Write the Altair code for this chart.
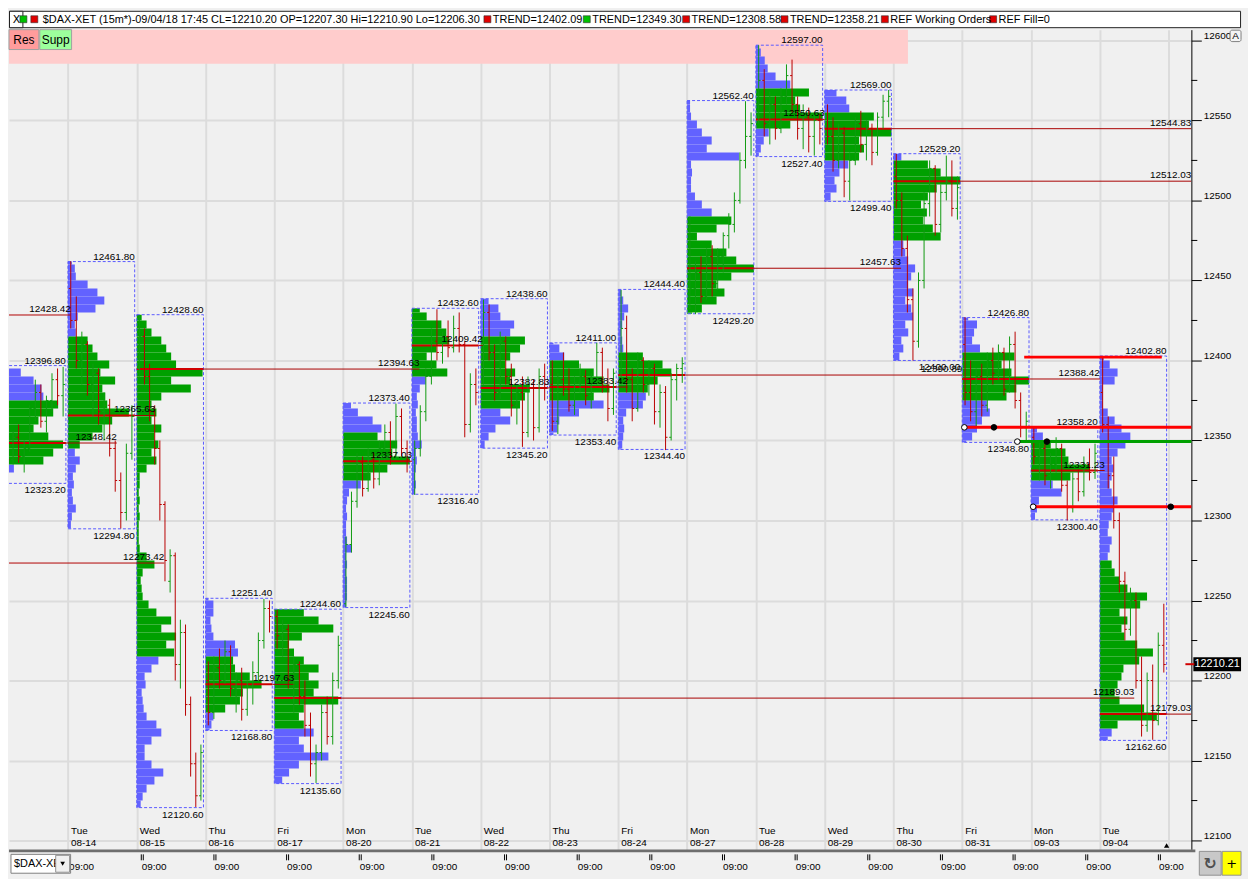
import altair as alt
import pandas as pd

FONT = "Liberation Sans, Arial, sans-serif"

# ---------------- sessions ----------------
SESSION_DAY = ["Mon", "Tue", "Wed", "Thu", "Fri", "Mon", "Tue", "Wed", "Thu", "Fri",
               "Mon", "Tue", "Wed", "Thu", "Fri", "Mon", "Tue"]
SESSION_DATE = ["08-13", "08-14", "08-15", "08-16", "08-17", "08-20", "08-21", "08-22", "08-23",
                "08-24", "08-27", "08-28", "08-29", "08-30", "08-31", "09-03", "09-04"]
SESSION_HIGH = [12396.80, 12461.80, 12428.60, 12251.40, 12244.60, 12373.40, 12432.60, 12438.60,
                12411.00, 12444.40, 12562.40, 12597.00, 12569.00, 12529.20, 12426.80, 12358.20, 12402.80]
SESSION_LOW = [12323.20, 12294.80, 12120.60, 12168.80, 12135.60, 12245.60, 12316.40, 12345.20,
               12353.40, 12344.40, 12429.20, 12527.40, 12499.40, 12400.00, 12348.80, 12300.40, 12162.60]
SESSION_POC = [12348.42, 12365.63, 12394.63, 12197.63, 12189.03, 12337.03, 12409.42, 12382.83,
               12383.42, 12390.89, 12457.63, 12550.63, 12544.83, 12512.03, 12388.42, 12331.23, 12179.03]
POC_END = [1.71, 2.27, 6.11, 4.29, 16.5, 6.0, 7.03, 8.0, 9.14, 14.0, 13.11, 12.0, 17.33, 17.33,
           16.0, 16.07, 17.33]
VA_LOW = [12335, 12344, 12213, 12181, 12169, 12323, 12388, 12370, 12373, 12378, 12425, 12546,
          12524, 12473, 12373, 12324, 12168]
VA_HIGH = [12375, 12414, 12429, 12214, 12245, 12354, 12433, 12413, 12398, 12403, 12488, 12568,
           12553, 12524, 12403, 12349, 12274]

# ---------------- volume profiles (5-point rows, width in 1/70 of a session) ----------------
PROFILE_STEP = 5
PROFILE_START = [12325, 12295, 12120, 12165, 12135, 12245, 12315, 12345, 12350, 12340, 12425,
                 12525, 12495, 12400, 12345, 12300, 12160]
PROFILE_S00 = [8, 15, 45, 55, 65, 50, 35, 40, 55, 60, 45, 43, 35, 22, 10]
PROFILE_S01 = [3, 4, 8, 5, 4, 6, 5, 8, 12, 7, 12, 25, 35, 45, 62, 40, 38, 35, 48, 33, 42, 30, 25,
               20, 8, 7, 10, 28, 37, 30, 20, 8, 7, 4]
PROFILE_S02 = [4, 6, 10, 18, 27, 15, 8, 8, 15, 25, 20, 10, 7, 6, 5, 9, 8, 15, 22, 38, 30, 40, 25,
               35, 20, 12, 6, 5, 4, 6, 18, 10, 3, 2, 2, 2, 3, 2, 3, 2, 3, 3, 10, 20, 15, 22, 18,
               25, 15, 20, 15, 25, 55, 35, 67, 40, 35, 30, 25, 15, 10, 5]
PROFILE_S03 = [4, 6, 8, 20, 35, 38, 57, 45, 30, 28, 33, 30, 8, 6, 5, 8, 8, 3]
PROFILE_S04 = [8, 15, 25, 55, 30, 25, 40, 30, 25, 30, 65, 40, 45, 35, 45, 30, 20, 15, 28, 60, 45, 30]
PROFILE_S05 = [3, 4, 4, 4, 3, 4, 3, 9, 4, 3, 3, 4, 3, 4, 6, 18, 28, 45, 68, 50, 55, 35, 39, 30, 15, 8]
PROFILE_S06 = [3, 4, 3, 4, 5, 4, 10, 6, 5, 5, 4, 6, 5, 8, 14, 36, 25, 15, 25, 38, 35, 30, 15, 8]
PROFILE_S07 = [4, 8, 15, 30, 20, 40, 45, 50, 30, 35, 25, 30, 40, 45, 30, 34, 20, 18, 8]
PROFILE_S08 = [4, 8, 10, 30, 55, 45, 61, 55, 45, 30, 15, 10, 4]
PROFILE_S09 = [3, 4, 5, 6, 5, 8, 25, 28, 30, 40, 54, 45, 25, 5, 4, 3, 4, 6, 10, 5, 3]
PROFILE_S10 = [5, 15, 30, 38, 30, 45, 68, 50, 40, 25, 10, 30, 45, 25, 15, 8, 4, 4, 5, 4, 53, 20,
               25, 15, 10, 4, 3, 3]
PROFILE_S11 = [3, 5, 8, 13, 35, 68, 45, 40, 54, 35, 20, 12, 9, 5, 3]
PROFILE_S12 = [3, 6, 12, 10, 15, 24, 35, 40, 35, 68, 45, 50, 25, 22, 12]
PROFILE_S13 = [6, 10, 8, 15, 12, 20, 18, 12, 20, 15, 18, 22, 15, 12, 10, 48, 40, 30, 34, 28, 35,
               44, 68, 48, 35, 8]
PROFILE_S14 = [4, 10, 15, 20, 28, 25, 45, 55, 68, 50, 40, 53, 18, 10, 12, 15, 6]
PROFILE_S15 = [4, 6, 8, 31, 22, 40, 60, 38, 35, 20, 12, 6]
PROFILE_S16 = [8, 12, 18, 58, 45, 20, 15, 18, 22, 24, 40, 54, 38, 25, 22, 28, 20, 41, 48, 28, 20,
               15, 12, 8, 10, 12, 8, 9, 12, 14, 18, 12, 10, 12, 14, 12, 18, 26, 31, 22, 15, 8, 3,
               3, 3, 15, 18, 10, 4]
PROFILES = [PROFILE_S00, PROFILE_S01, PROFILE_S02, PROFILE_S03, PROFILE_S04, PROFILE_S05,
            PROFILE_S06, PROFILE_S07, PROFILE_S08, PROFILE_S09, PROFILE_S10, PROFILE_S11,
            PROFILE_S12, PROFILE_S13, PROFILE_S14, PROFILE_S15, PROFILE_S16]

# ---------------- price bars (open, high, low, close) ----------------
BARS_S00 = [(12350, 12362, 12340, 12345), (12345, 12352, 12332, 12338), (12338, 12356, 12335, 12352),
            (12352, 12360, 12336, 12340), (12340, 12350, 12330, 12345), (12345, 12372, 12343, 12370),
            (12370, 12388, 12362, 12380), (12380, 12385, 12358, 12362), (12362, 12378, 12355, 12375),
            (12375, 12392, 12368, 12388), (12388, 12395, 12372, 12378), (12378, 12396, 12365, 12385)]
BARS_S01 = [(12445, 12462, 12420, 12425), (12425, 12440, 12395, 12400), (12400, 12418, 12385, 12410),
            (12410, 12412, 12378, 12385), (12385, 12398, 12365, 12392), (12392, 12395, 12360, 12368),
            (12368, 12380, 12350, 12372), (12372, 12376, 12340, 12345), (12345, 12350, 12318, 12325),
            (12325, 12330, 12295, 12305), (12305, 12348, 12300, 12342), (12342, 12372, 12338, 12365)]
BARS_S02 = [(12395, 12428, 12390, 12415), (12415, 12420, 12385, 12390), (12390, 12398, 12362, 12368),
            (12368, 12372, 12335, 12345), (12345, 12350, 12300, 12310), (12310, 12312, 12262, 12275),
            (12262, 12282, 12255, 12278), (12278, 12280, 12200, 12210), (12210, 12238, 12195, 12230),
            (12230, 12235, 12178, 12185), (12185, 12190, 12140, 12148), (12148, 12155, 12121, 12128),
            (12128, 12160, 12125, 12155)]
BARS_S03 = [(12200, 12212, 12172, 12180), (12180, 12215, 12176, 12208), (12208, 12220, 12195, 12200),
            (12200, 12225, 12198, 12218), (12218, 12222, 12190, 12195), (12195, 12205, 12180, 12200),
            (12200, 12208, 12175, 12182), (12182, 12200, 12178, 12196), (12196, 12212, 12185, 12205),
            (12205, 12230, 12200, 12225), (12225, 12251, 12220, 12245), (12245, 12250, 12230, 12240)]
BARS_S04 = [(12240, 12244, 12220, 12228), (12228, 12238, 12215, 12232), (12232, 12235, 12195, 12200),
            (12200, 12215, 12180, 12210), (12210, 12212, 12185, 12190), (12190, 12200, 12165, 12172),
            (12172, 12180, 12140, 12148), (12148, 12160, 12136, 12155), (12155, 12185, 12150, 12180),
            (12180, 12190, 12160, 12165), (12165, 12205, 12160, 12200), (12200, 12228, 12195, 12222)]
BARS_S05 = [(12248, 12290, 12246, 12285), (12285, 12318, 12280, 12312), (12312, 12342, 12308, 12336),
            (12336, 12340, 12315, 12320), (12320, 12345, 12318, 12338), (12338, 12342, 12320, 12326),
            (12326, 12350, 12322, 12345), (12345, 12360, 12338, 12355), (12355, 12362, 12335, 12340),
            (12340, 12373, 12338, 12365), (12365, 12370, 12340, 12345), (12345, 12350, 12330, 12338)]
BARS_S06 = [(12338, 12350, 12316, 12345), (12345, 12372, 12340, 12368), (12368, 12395, 12362, 12390),
            (12390, 12420, 12385, 12412), (12412, 12432, 12400, 12405), (12405, 12418, 12398, 12415),
            (12415, 12425, 12402, 12408), (12408, 12428, 12405, 12420), (12420, 12430, 12405, 12410),
            (12410, 12412, 12352, 12360), (12360, 12392, 12355, 12385), (12385, 12395, 12372, 12380)]
BARS_S07 = [(12390, 12438, 12385, 12430), (12430, 12435, 12400, 12405), (12405, 12410, 12375, 12380),
            (12380, 12418, 12376, 12412), (12412, 12415, 12385, 12390), (12390, 12398, 12365, 12372),
            (12372, 12385, 12360, 12380), (12380, 12390, 12346, 12355), (12355, 12390, 12352, 12385),
            (12385, 12388, 12350, 12358), (12358, 12395, 12355, 12390), (12390, 12398, 12375, 12385)]
BARS_S08 = [(12385, 12400, 12356, 12362), (12362, 12392, 12354, 12388), (12388, 12405, 12378, 12382),
            (12382, 12395, 12368, 12372), (12372, 12390, 12366, 12386), (12386, 12398, 12380, 12390),
            (12390, 12394, 12372, 12378), (12378, 12392, 12370, 12388), (12388, 12411, 12385, 12405),
            (12405, 12408, 12380, 12384), (12384, 12395, 12362, 12370), (12370, 12395, 12366, 12392)]
BARS_S09 = [(12392, 12444, 12385, 12420), (12420, 12428, 12380, 12388), (12388, 12395, 12362, 12370),
            (12370, 12405, 12368, 12400), (12400, 12402, 12380, 12385), (12385, 12400, 12378, 12395),
            (12395, 12398, 12360, 12368), (12368, 12385, 12358, 12380), (12380, 12384, 12344, 12352),
            (12352, 12392, 12350, 12388), (12388, 12398, 12375, 12395), (12395, 12402, 12386, 12398)]
BARS_S10 = [(12440, 12490, 12432, 12445), (12445, 12462, 12429, 12455), (12455, 12465, 12436, 12440),
            (12440, 12470, 12438, 12465), (12465, 12472, 12440, 12448), (12448, 12470, 12444, 12465),
            (12465, 12480, 12455, 12478), (12478, 12492, 12470, 12485), (12485, 12505, 12480, 12500),
            (12500, 12530, 12498, 12525), (12525, 12562, 12520, 12540), (12540, 12555, 12528, 12548)]
BARS_S11 = [(12560, 12597, 12548, 12575), (12575, 12582, 12540, 12548), (12548, 12568, 12535, 12560),
            (12560, 12565, 12538, 12545), (12545, 12570, 12542, 12565), (12565, 12585, 12560, 12578),
            (12578, 12588, 12555, 12560), (12560, 12565, 12538, 12545), (12545, 12560, 12532, 12552),
            (12552, 12558, 12530, 12540), (12540, 12555, 12528, 12550), (12550, 12554, 12535, 12545)]
BARS_S12 = [(12545, 12560, 12535, 12540), (12540, 12552, 12518, 12525), (12525, 12548, 12520, 12542),
            (12542, 12546, 12502, 12512), (12512, 12530, 12500, 12525), (12525, 12552, 12522, 12548),
            (12548, 12556, 12530, 12535), (12535, 12550, 12525, 12545), (12545, 12548, 12522, 12530),
            (12530, 12555, 12528, 12552), (12552, 12566, 12545, 12562), (12562, 12569, 12552, 12565)]
BARS_S13 = [(12515, 12529, 12495, 12500), (12500, 12505, 12465, 12470), (12470, 12478, 12430, 12438),
            (12438, 12445, 12400, 12412), (12412, 12455, 12408, 12450), (12450, 12505, 12445, 12498),
            (12498, 12525, 12490, 12520), (12520, 12522, 12478, 12485), (12485, 12510, 12480, 12505),
            (12505, 12528, 12500, 12512), (12512, 12525, 12490, 12495), (12495, 12515, 12488, 12508)]
BARS_S14 = [(12410, 12427, 12372, 12380), (12380, 12400, 12362, 12368), (12368, 12395, 12358, 12390),
            (12390, 12398, 12365, 12372), (12372, 12405, 12368, 12400), (12400, 12408, 12385, 12392),
            (12392, 12410, 12388, 12405), (12405, 12408, 12378, 12382), (12382, 12415, 12380, 12410),
            (12410, 12418, 12370, 12375), (12375, 12380, 12352, 12358), (12358, 12368, 12349, 12362)]
BARS_S15 = [(12352, 12358, 12335, 12340), (12340, 12350, 12325, 12345), (12345, 12348, 12322, 12328),
            (12328, 12342, 12320, 12335), (12335, 12352, 12330, 12345), (12345, 12348, 12318, 12322),
            (12322, 12325, 12300, 12308), (12308, 12330, 12305, 12326), (12326, 12332, 12312, 12318),
            (12318, 12340, 12315, 12335), (12335, 12345, 12325, 12330), (12330, 12348, 12326, 12342)]
BARS_S16 = [(12380, 12402, 12355, 12360), (12360, 12365, 12320, 12328), (12328, 12340, 12295, 12300),
            (12300, 12305, 12255, 12262), (12262, 12268, 12225, 12232), (12232, 12258, 12228, 12250),
            (12250, 12255, 12195, 12200), (12200, 12215, 12165, 12172), (12172, 12205, 12168, 12200),
            (12200, 12210, 12163, 12175), (12175, 12230, 12172, 12222), (12222, 12248, 12205, 12210)]
BARS = [BARS_S00, BARS_S01, BARS_S02, BARS_S03, BARS_S04, BARS_S05, BARS_S06, BARS_S07, BARS_S08,
        BARS_S09, BARS_S10, BARS_S11, BARS_S12, BARS_S13, BARS_S14, BARS_S15, BARS_S16]

# ---------------- other levels ----------------
OLD_LEVEL = [12428.42, 12273.42]
OLD_LEVEL_END = [1.04, 2.4]
TREND_PRICE = [12402.09, 12358.21, 12349.30, 12308.58]
TREND_FROM = [14.90, 14.03, 14.80, 15.03]
TREND_TO = [16.90, 17.33, 17.33, 17.33]
TREND_KIND = ["res", "res", "sup", "res"]
DOT_X = [14.03, 14.46, 14.80, 15.23, 15.03, 17.03]
DOT_PRICE = [12358.21, 12358.21, 12349.30, 12349.30, 12308.58, 12308.58]
DOT_KIND = ["open", "filled", "open", "filled", "open", "filled"]
RES_ZONE_LOW = 12585.4
RES_ZONE_END = 13.21
LAST_PRICE = 12210.21
LAST_TIME = 16.97
MINOR_TICKS = [12125, 12175, 12225, 12275, 12325, 12375, 12425, 12475, 12525, 12575]
TIME_LABELS = ["09:00"] * 16
HEADER_MAIN = "$DAX-XET (15m*)-09/04/18 17:45 CL=12210.20 OP=12207.30 Hi=12210.90 Lo=12206.30"
HEADER_ITEMS = ["TREND=12402.09", "TREND=12349.30", "TREND=12308.58", "TREND=12358.21",
                "REF Working Orders", "REF Fill=0"]
HEADER_ITEM_COLOR = ["red", "green", "red", "red", "red", "red"]

# ---------------- layout ----------------
W, H = 1190, 825
HEAD_H, FOOT_H = 18, 26
TOTAL_W = 1240
X_DOM = [0.1429, 17.33]
Y_DOM = [12094.5, 12606.7]
BOX_W = 0.97
RED, GREEN, BLUE = "#D00000", "#00A000", "#6262FF"
FS = 10

xs = alt.Scale(domain=X_DOM, nice=False, zero=False)
ys = alt.Scale(domain=Y_DOM, nice=False, zero=False)
xaxis = alt.Axis(values=list(range(1, 18)), grid=True, gridColor="#DCDCDC", gridWidth=2,
                 labels=False, ticks=False, domain=False, title=None)
yaxis = alt.Axis(orient="right", values=list(range(12100, 12601, 50)), grid=True,
                 gridColor="#DCDCDC", gridWidth=2, tickColor="black", tickSize=10, tickWidth=1,
                 labelPadding=2, labelBaseline="bottom", labelFont=FONT, labelFontSize=FS,
                 labelColor="black", domainColor="black", domainWidth=1, title=None, format="d",
                 labelFlush=False, labelOverlap=False)


def X(f):
    return alt.X(f, scale=xs, axis=xaxis)


def Y(f):
    return alt.Y(f, scale=ys, axis=yaxis)


# ---------------- tables ----------------
prof_rows = []
for s, widths in enumerate(PROFILES):
    lo, hi = SESSION_LOW[s], SESSION_HIGH[s]
    for j, w in enumerate(widths):
        b = PROFILE_START[s] + PROFILE_STEP * j
        y0, y1 = max(b, lo), min(b + PROFILE_STEP, hi)
        if y1 <= y0:
            continue
        mid = (y0 + y1) / 2
        zone = "va" if VA_LOW[s] <= mid <= VA_HIGH[s] else "out"
        prof_rows.append(dict(x=s, x2=s + w / 70.0, y=y0, y2=y1, zone=zone))
prof_df = pd.DataFrame(prof_rows)

sess_df = pd.DataFrame({
    "x": list(range(17)),
    "xr": [s + BOX_W for s in range(17)],
    "high": SESSION_HIGH, "low": SESSION_LOW, "poc": SESSION_POC,
    "pend": [min(e, X_DOM[1]) for e in POC_END],
    "hl": [f"{v:.2f}" for v in SESSION_HIGH],
    "ll": [f"{v:.2f}" for v in SESSION_LOW],
    "pl": [f"{v:.2f}" for v in SESSION_POC],
    "day": SESSION_DAY, "date": SESSION_DATE,
})
old_df = pd.DataFrame({"x": [0.0] * len(OLD_LEVEL), "xe": OLD_LEVEL_END, "p": OLD_LEVEL,
                       "t": [f"{v:.2f}" for v in OLD_LEVEL]})

bar_rows = []
for s, bars in enumerate(BARS):
    n = len(bars)
    for i, (o, h, l, c) in enumerate(bars):
        xb = s + (i + 0.5) / n * BOX_W
        bar_rows.append(dict(x=xb, xo=xb - 0.028, xc=xb + 0.028, o=o, h=h, l=l, c=c,
                             d="up" if c >= o else "down"))
bar_df = pd.DataFrame(bar_rows)

trend_df = pd.DataFrame({"x": TREND_FROM, "x2": TREND_TO, "p": TREND_PRICE, "k": TREND_KIND})
dot_df = pd.DataFrame({"x": DOT_X, "p": DOT_PRICE, "k": DOT_KIND})
zone_df = pd.DataFrame({"x": [X_DOM[0]], "x2": [RES_ZONE_END], "y": [RES_ZONE_LOW], "y2": [Y_DOM[1]]})
last_df = pd.DataFrame({"p": [LAST_PRICE], "t": [f"{LAST_PRICE:.2f}"], "x": [LAST_TIME]})
minor_df = pd.DataFrame({"p": MINOR_TICKS})

layers = []
layers.append(alt.Chart(zone_df).mark_rect(color="#FFCCCC").encode(
    x=X("x:Q"), x2="x2:Q", y=Y("y:Q"), y2="y2:Q"))
for zone, col in [("out", BLUE), ("va", GREEN)]:
    layers.append(alt.Chart(prof_df).transform_filter(f"datum.zone == '{zone}'")
                  .mark_rect(clip=True, color=col).encode(
        x=X("x:Q"), x2="x2:Q", y=Y("y:Q"), y2="y2:Q"))
layers.append(alt.Chart(sess_df).mark_rect(clip=True, fillOpacity=0, stroke="#5A5AFF",
                                           strokeWidth=1, strokeDash=[3, 2]).encode(
    x=X("x:Q"), x2="xr:Q", y=Y("low:Q"), y2="high:Q"))
layers.append(alt.Chart(sess_df).mark_rule(clip=True, color=RED, strokeWidth=2).encode(
    x=X("x:Q"), x2="xr:Q", y=Y("poc:Q")))
layers.append(alt.Chart(sess_df).mark_rule(clip=True, color="#A80000", strokeWidth=1).encode(
    x=X("xr:Q"), x2="pend:Q", y=Y("poc:Q")))
layers.append(alt.Chart(old_df).mark_rule(clip=True, color="#B00000", strokeWidth=1).encode(
    x=X("x:Q"), x2="xe:Q", y=Y("p:Q")))
for d, col in [("down", "#B80000"), ("up", "#109A10")]:
    base = alt.Chart(bar_df).transform_filter(f"datum.d == '{d}'")
    layers.append(base.mark_rule(clip=True, color=col, strokeWidth=1).encode(
        x=X("x:Q"), y=Y("l:Q"), y2="h:Q"))
    layers.append(base.mark_rule(clip=True, color=col, strokeWidth=1).encode(
        x=X("xo:Q"), x2="x:Q", y=Y("o:Q")))
    layers.append(base.mark_rule(clip=True, color=col, strokeWidth=1).encode(
        x=X("x:Q"), x2="xc:Q", y=Y("c:Q")))
for k, col in [("res", "#FF0000"), ("sup", "#00A000")]:
    layers.append(alt.Chart(trend_df).transform_filter(f"datum.k == '{k}'")
                  .mark_rule(color=col, strokeWidth=3).encode(
        x=X("x:Q"), x2="x2:Q", y=Y("p:Q")))
for k, fill in [("open", "white"), ("filled", "black")]:
    layers.append(alt.Chart(dot_df).transform_filter(f"datum.k == '{k}'")
                  .mark_point(filled=True, shape="circle", size=32, fill=fill, stroke="black",
                              strokeWidth=1, opacity=1).encode(x=X("x:Q"), y=Y("p:Q")))

txt = dict(font=FONT, fontSize=FS, color="black")
layers.append(alt.Chart(sess_df).mark_text(align="right", baseline="bottom", dy=0, **txt).encode(
    x=X("xr:Q"), y=Y("high:Q"), text="hl:N"))
layers.append(alt.Chart(sess_df).mark_text(align="right", baseline="top", dy=2, **txt).encode(
    x=X("xr:Q"), y=Y("low:Q"), text="ll:N"))
layers.append(alt.Chart(sess_df).mark_text(align="right", baseline="bottom", dy=-1, **txt).encode(
    x=X("pend:Q"), y=Y("poc:Q"), text="pl:N"))
layers.append(alt.Chart(old_df).mark_text(align="right", baseline="bottom", dy=-1, **txt).encode(
    x=X("xe:Q"), y=Y("p:Q"), text="t:N"))

days = alt.Chart(sess_df).transform_filter("datum.x >= 1")
layers.append(days.mark_text(align="left", baseline="middle", dx=3, **txt).encode(
    x=X("x:Q"), y=alt.value(H - 18), text="day:N"))
layers.append(days.mark_text(align="left", baseline="middle", dx=3, **txt).encode(
    x=X("x:Q"), y=alt.value(H - 6), text="date:N"))

# Res / Supp buttons
for label, fill, x0, x1 in [("Res", "#FF9C9C", 0, 30), ("Supp", "#9CFF9C", 31, 63)]:
    bdf = pd.DataFrame({"t": [label]})
    layers.append(alt.Chart(bdf).mark_rect(fill=fill, stroke="#A0A0A0", strokeWidth=1).encode(
        x=alt.value(x0), x2=alt.value(x1), y=alt.value(0), y2=alt.value(20)))
    layers.append(alt.Chart(bdf).mark_text(font=FONT, fontSize=12, color="black").encode(
        x=alt.value((x0 + x1) / 2), y=alt.value(10), text="t:N"))

# current price marker and time marker
layers.append(alt.Chart(last_df).mark_rule(color="black", strokeWidth=14, strokeCap="butt").encode(
    x=alt.value(W + 2), x2=alt.value(W + 50), y=Y("p:Q")))
layers.append(alt.Chart(last_df).mark_rule(color="#D00000", strokeWidth=2).encode(
    x=alt.value(W - 6), x2=alt.value(W + 3), y=Y("p:Q")))
layers.append(alt.Chart(last_df).mark_text(font=FONT, fontSize=11, color="white", align="center",
                                           baseline="middle").encode(
    x=alt.value(W + 26), y=Y("p:Q"), text="t:N"))
layers.append(alt.Chart(last_df).mark_point(shape="triangle-up", filled=True, size=28,
                                            color="black", opacity=1).encode(
    x=X("x:Q"), y=alt.value(H - 4)))
layers.append(alt.Chart(minor_df).mark_rule(color="black", strokeWidth=1).encode(
    x=alt.value(W), x2=alt.value(W + 6), y=Y("p:Q")))
adf = pd.DataFrame({"t": ["A"]})
layers.append(alt.Chart(adf).mark_rect(fill="#F4F4F4", stroke="#808080", strokeWidth=1,
                                       cornerRadius=2).encode(
    x=alt.value(W + 39), x2=alt.value(W + 50), y=alt.value(0.5), y2=alt.value(12)))
layers.append(alt.Chart(adf).mark_text(font=FONT, fontSize=10, color="black").encode(
    x=alt.value(W + 44.5), y=alt.value(6.5), text="t:N"))

main = alt.layer(*layers).properties(width=W, height=H)

# ---------------- header ----------------
hx = alt.Scale(domain=[0, TOTAL_W], range=[0, TOTAL_W], nice=False, zero=False)
one = pd.DataFrame({"t": ["X"]})
hsq = pd.DataFrame({"x0": [11, 22, 478, 578, 678, 777, 878, 987],
                    "c": ["#00C000", "#E00000"] + ["#00C000" if c == "green" else "#E00000"
                                                    for c in HEADER_ITEM_COLOR]})
hsq["x1"] = hsq["x0"] + 7
htxt = pd.DataFrame({"x": [34, 487, 587, 687, 786, 887, 996], "t": [HEADER_MAIN] + HEADER_ITEMS})
header = alt.layer(
    alt.Chart(one).mark_rect(fill="white", stroke="#202020", strokeWidth=1).encode(
        x=alt.value(0.5), x2=alt.value(TOTAL_W - 0.5), y=alt.value(0.5), y2=alt.value(HEAD_H - 1)),
    alt.Chart(one).mark_rect(fill="white", stroke="#202020", strokeWidth=1).encode(
        x=alt.value(0.5), x2=alt.value(14), y=alt.value(0.5), y2=alt.value(HEAD_H - 1)),
    alt.Chart(one).mark_text(font="DejaVu Sans", fontSize=11, color="black").encode(
        x=alt.value(7.5), y=alt.value(9), text="t:N"),
    alt.Chart(hsq).mark_rect(stroke="#303030", strokeWidth=0.6).encode(
        x=alt.X("x0:Q", scale=hx, axis=None), x2="x1:Q", y=alt.value(5), y2=alt.value(12),
        fill=alt.Color("c:N", scale=None)),
    alt.Chart(htxt).mark_text(font=FONT, fontSize=11, color="black", align="left",
                              baseline="middle").encode(
        x=alt.X("x:Q", scale=hx, axis=None), y=alt.value(9), text="t:N"),
).properties(width=TOTAL_W, height=HEAD_H)

# ---------------- bottom time bar ----------------
bx = alt.Scale(domain=[-0.9986, 15.96], nice=False, zero=False)
tdf = pd.DataFrame({"i": list(range(len(TIME_LABELS))), "t": TIME_LABELS})
tdf["tk"] = tdf["i"] - 0.164
dd = pd.DataFrame({"t": ["$DAX-XE"]})
bottom = alt.layer(
    alt.Chart(dd).mark_rect(fill="#6E6E6E").encode(
        x=alt.value(0), x2=alt.value(W + 4), y=alt.value(0), y2=alt.value(3)),
    alt.Chart(tdf).mark_text(font=FONT, fontSize=FS, color="black").encode(
        x=alt.X("i:Q", scale=bx, axis=None), y=alt.value(18), text="t:N"),
    alt.Chart(tdf).transform_filter("datum.i >= 1").mark_rule(color="black", strokeWidth=1,
                                                             xOffset=-1).encode(
        x=alt.X("tk:Q", scale=bx, axis=None), y=alt.value(5), y2=alt.value(11)),
    alt.Chart(tdf).transform_filter("datum.i >= 1").mark_rule(color="black", strokeWidth=1,
                                                             xOffset=1).encode(
        x=alt.X("tk:Q", scale=bx, axis=None), y=alt.value(5), y2=alt.value(11)),
    alt.Chart(dd).mark_rect(fill="white", stroke="#808080", strokeWidth=1).encode(
        x=alt.value(2), x2=alt.value(62), y=alt.value(5), y2=alt.value(24)),
    alt.Chart(dd).mark_text(font=FONT, fontSize=11, color="black", align="left",
                            baseline="middle").encode(x=alt.value(5), y=alt.value(14.5), text="t:N"),
    alt.Chart(dd).mark_rect(fill="#F0F0F0", stroke="#909090", strokeWidth=1).encode(
        x=alt.value(47), x2=alt.value(61), y=alt.value(6), y2=alt.value(23)),
    alt.Chart(dd).mark_point(shape="triangle-down", filled=True, size=22, color="black",
                             opacity=1).encode(x=alt.value(54), y=alt.value(14.5)),
    alt.Chart(dd).mark_rect(fill="#C8C8C8", stroke="#909090", strokeWidth=1).encode(
        x=alt.value(1198), x2=alt.value(1220), y=alt.value(2), y2=alt.value(26)),
    alt.Chart(dd).mark_text(font="DejaVu Sans", fontSize=16, fontWeight="bold",
                            color="#505050").encode(x=alt.value(1209), y=alt.value(15),
                                                    text=alt.value("↻")),
    alt.Chart(dd).mark_rect(fill="#FFFF00", stroke="#909090", strokeWidth=1).encode(
        x=alt.value(1221), x2=alt.value(TOTAL_W), y=alt.value(2), y2=alt.value(26)),
    alt.Chart(dd).mark_text(font="DejaVu Sans", fontSize=13, color="black").encode(
        x=alt.value(1230.5), y=alt.value(14.5), text=alt.value("+")),
).properties(width=TOTAL_W, height=FOOT_H)

chart = alt.vconcat(header, main, bottom, spacing=0).resolve_scale(
    x="independent", y="independent").properties(
    padding=0, background="#F0F0F0").configure_view(strokeWidth=0).configure_concat(spacing=0)

chart.save("out.html", embed_options={"renderer": "svg", "actions": False})
